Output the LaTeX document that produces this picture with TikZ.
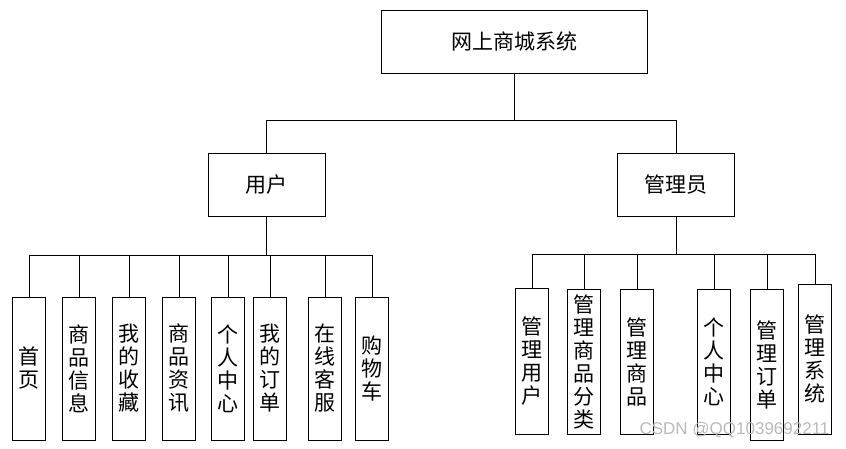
\documentclass[tikz,border=0pt]{standalone}
\usepackage{fontspec}
\setmainfont{Noto Sans CJK SC}
\newfontfamily\markfont{Liberation Sans}

\begin{document}
\begin{tikzpicture}[x=1pt, y=-1pt,
	box/.style={draw, line width=1pt, inner sep=0pt, font=\fontsize{21}{23}\selectfont},
	topbox/.style={box, minimum width=266pt, minimum height=63pt},
	rolebox/.style={box, minimum width=117pt, minimum height=63pt},
	leafbox/.style={box, minimum width=33pt, align=center},
	link/.style={line width=1pt},
	]
	\useasboundingbox (0,0) rectangle (846,448);

	\node[topbox] (sys) at (514,41.5) {网上商城系统};
	\node[rolebox] (user) at (266.5,184.5) {用户};
	\node[rolebox] (admin) at (676,184.5) {管理员};

	\coordinate (sysbus) at (0,120);
	\coordinate (userbus) at (0,255);
	\coordinate (adminbus) at (0,254);

	% user side
	\foreach \name/\x/\txt in {u1/29/{首\\页}, u2/79/{商\\品\\信\\息}, u3/129/{我\\的\\收\\藏},
		u4/179/{商\\品\\资\\讯}, u5/228/{个\\人\\中\\心}, u6/270/{我\\的\\订\\单},
		u7/325/{在\\线\\客\\服}, u8/372/{购\\物\\车}}
		\node[leafbox, minimum height=143pt] (\name) at (\x,368.5) {\txt};

	% admin side
	\foreach \name/\x/\y/\h/\txt in {a1/532/361/146/{管\\理\\用\\户}, a2/584/361.5/145/{管\\理\\商\\品\\分\\类},
		a3/637/361.5/145/{管\\理\\商\\品}, a4/714/361.5/145/{个\\人\\中\\心},
		a5/767/364.5/151/{管\\理\\订\\单}, a6/815/359/150/{管\\理\\系\\统}}
		\node[leafbox, minimum height=\h pt] (\name) at (\x,\y) {\txt};

	\draw[link] (sys.south) |- (user.north |- sysbus) -- (user.north);
	\draw[link] (sys.south) |- (admin.north |- sysbus) -- (admin.north);

	\foreach \n in {u1,u2,u3,u4,u5,u6,u7,u8}
		\draw[link] (user.south) |- (\n.north |- userbus) -- (\n.north);
	\foreach \n in {a1,a2,a3,a4,a5,a6}
		\draw[link] (admin.south) |- (\n.north |- adminbus) -- (\n.north);

	\node[text=gray!55, font=\markfont\fontsize{17}{17}\selectfont, anchor=east] (mark) at (833,430) {CSDN @QQ1039692211};

\end{tikzpicture}
\end{document}
